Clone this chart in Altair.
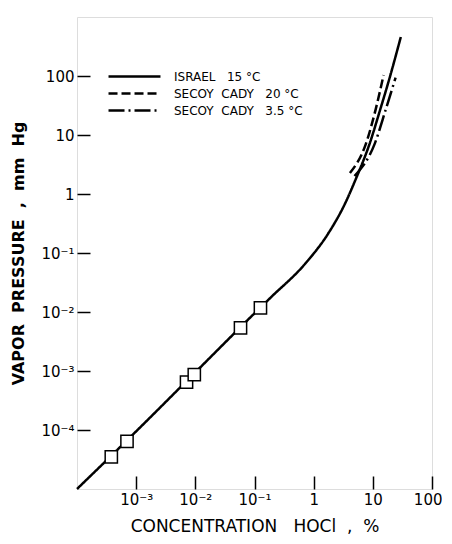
import altair as alt
import pandas as pd

# ---- data ----
israel_conc = [1e-4, 1e-3, 1e-2, 0.1, 0.189, 0.71, 1.74, 3.37, 5.16, 8.9, 13.1, 19.4, 29.7]
israel_vp = [1e-5, 9.5e-5, 9.5e-4, 9.5e-3, 0.0177, 0.065, 0.21, 0.68, 1.80, 7.3, 25.5, 96, 458]

secoy20_conc = [4.1, 7.6, 11.2, 15.2]
secoy20_vp = [2.27, 7.0, 27.5, 104]

secoy35_conc = [4.9, 10.7, 16.6, 24.2]
secoy35_vp = [2.02, 7.0, 27.5, 93.5]

point_conc = [3.8e-4, 7.0e-4, 7.1e-3, 9.6e-3, 0.058, 0.126]
point_vp = [3.5e-5, 6.4e-5, 6.5e-4, 8.7e-4, 5.4e-3, 0.0117]

NB = "\u00a0"
series_names = [
    f"ISRAEL{NB}{NB}{NB}15{NB}°C",
    f"SECOY{NB}{NB}CADY{NB}{NB}{NB}20{NB}°C",
    f"SECOY{NB}{NB}CADY{NB}{NB}{NB}3.5{NB}°C",
]
series_dash = [[1, 0], [9, 4], [16, 4, 2, 4]]

x_ticks = [1e-3, 1e-2, 1e-1, 1, 10, 100]
x_labels = ["10⁻³", "10⁻²", "10⁻¹", "1", "10", "100"]
y_ticks = [1e-4, 1e-3, 1e-2, 1e-1, 1, 10, 100]
y_labels = ["10⁻⁴", "10⁻³", "10⁻²", "10⁻¹", "1", "10", "100"]

x_title = f"CONCENTRATION{NB}{NB}{NB}HOCl{NB}{NB},{NB}{NB}%"
y_title = f"VAPOR{NB}{NB}PRESSURE{NB}{NB},{NB}{NB}mm{NB}{NB}Hg"

FONT = "DejaVu Sans"


def label_expr(ticks, labels):
    expr = "''"
    for t, l in zip(reversed(ticks), reversed(labels)):
        expr = f"abs(datum.value - {t}) < {t} * 0.01 ? '{l}' : ({expr})"
    return expr


rows = []
for name, xs, ys in [
    (series_names[0], israel_conc, israel_vp),
    (series_names[1], secoy20_conc, secoy20_vp),
    (series_names[2], secoy35_conc, secoy35_vp),
]:
    for i, (a, b) in enumerate(zip(xs, ys)):
        rows.append({"series": name, "order": i, "conc": a, "vp": b})
lines_df = pd.DataFrame(rows)
points_df = pd.DataFrame({"conc": point_conc, "vp": point_vp})

x_scale = alt.Scale(type="log", domain=[1e-4, 100], nice=False)
y_scale = alt.Scale(type="log", domain=[1e-5, 1000], nice=False)

x_axis = alt.Axis(
    values=x_ticks, labelExpr=label_expr(x_ticks, x_labels), orient="bottom",
    offset=-13, tickSize=13, tickWidth=1.5, tickColor="black", domain=False, grid=False,
    labelPadding=3, labelFlush=True, labelFlushOffset=10, labelFont=FONT, labelFontSize=15,
    labelColor="black",
    title=x_title, titleFont=FONT, titleFontSize=17,
    titleFontWeight="normal", titleColor="black", titlePadding=11,
)
y_axis = alt.Axis(
    values=y_ticks, labelExpr=label_expr(y_ticks, y_labels), orient="left",
    offset=-13, tickSize=13, tickWidth=1.5, tickColor="black", domain=False, grid=False,
    labelPadding=3, labelFont=FONT, labelFontSize=15, labelColor="black",
    title=y_title, titleFont=FONT, titleFontSize=16,
    titleFontWeight="bold", titleColor="black", titlePadding=14,
)

lines = alt.Chart(lines_df).mark_line(color="black", strokeWidth=2.5, interpolate="monotone").encode(
    x=alt.X("conc:Q", scale=x_scale, axis=x_axis),
    y=alt.Y("vp:Q", scale=y_scale, axis=y_axis),
    strokeDash=alt.StrokeDash(
        "series:N",
        scale=alt.Scale(domain=series_names, range=series_dash),
        legend=alt.Legend(
            orient="none", legendX=51, legendY=53, title=None,
            symbolType="M-5,0H5", symbolSize=108,
            symbolStrokeWidth=2.5, symbolStrokeColor="black",
            labelFont=FONT, labelFontSize=12, labelColor="black", labelOffset=33,
            rowPadding=4, labelLimit=300,
        ),
    ),
    order="order:Q",
)

points = alt.Chart(points_df).mark_point(
    shape="square", filled=True, fill="white", stroke="black", strokeWidth=1.5, size=150, opacity=1
).encode(
    x=alt.X("conc:Q", scale=x_scale),
    y=alt.Y("vp:Q", scale=y_scale),
)

chart = alt.layer(lines, points).properties(
    width=355, height=472, padding={"left": 2, "top": 9, "right": 0, "bottom": 0}
).configure_view(stroke="black", strokeWidth=2).configure(background="white")

chart.save("out.html", embed_options={"renderer": "svg", "actions": False})
